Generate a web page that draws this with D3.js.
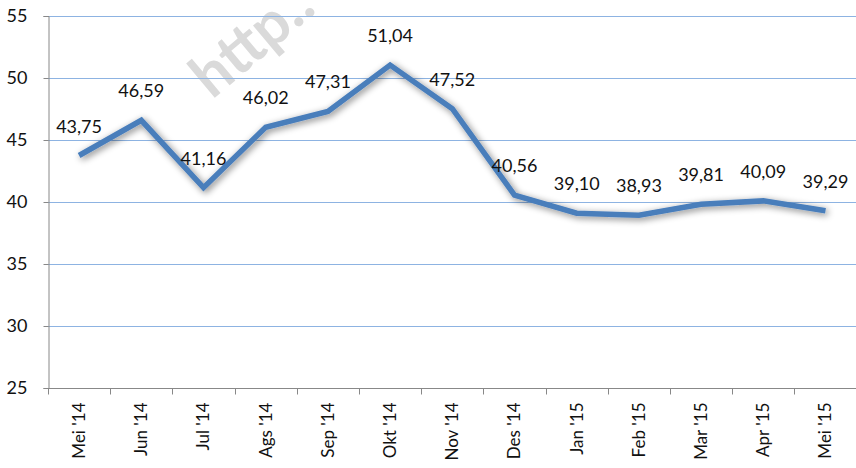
<!DOCTYPE html>
<html>
<head>
<meta charset="utf-8">
<script src="https://cdn.jsdelivr.net/npm/d3@7"></script>
<style>
  body { margin: 0; background: #fff; }
  text { font-family: Lato, "Open Sans", sans-serif; fill: #111; }
</style>
</head>
<body>
<div id="chart"></div>
<script>
const months = ["Mei '14", "Jun '14", "Jul '14", "Ags '14", "Sep '14", "Okt '14", "Nov '14",
    "Des '14", "Jan '15", "Feb '15", "Mar '15", "Apr '15", "Mei '15"];
const values = [43.75, 46.59, 41.16, 46.02, 47.31, 51.04, 47.52, 40.56, 39.10, 38.93, 39.81, 40.09, 39.29];
const yTicks = [25, 30, 35, 40, 45, 50, 55];

const svgWidth = 856;
const svgHeight = 468;
const margin = { top: 16, right: 0, bottom: 80, left: 48 };

const svg = d3.select("#chart")
    .append("svg")
    .attr("width", svgWidth)
    .attr("height", svgHeight);

// shadow under the line
const defs = svg.append("defs");
const shadow = defs.append("filter")
    .attr("id", "shadow")
    .attr("x", "-10%").attr("y", "-20%")
    .attr("width", "120%").attr("height", "140%");
shadow.append("feGaussianBlur").attr("in", "SourceAlpha").attr("stdDeviation", 3.5).attr("result", "blur");
shadow.append("feOffset").attr("dx", 2).attr("dy", 2).attr("result", "off");
shadow.append("feComponentTransfer").append("feFuncA").attr("type", "linear").attr("slope", 0.5);
const merge = shadow.append("feMerge");
merge.append("feMergeNode");
merge.append("feMergeNode").attr("in", "SourceGraphic");

const x = d3.scaleBand()
    .domain(months)
    .range([margin.left, margin.left + 13 * 62.2])
    .padding(0);

const y = d3.scaleLinear()
    .domain([25, 55])
    .range([388, margin.top]);

// watermark (cut by the top edge, as in the original)
svg.append("text")
    .attr("transform", "translate(212,100) rotate(-40)")
    .style("font-size", "60px")
    .style("font-weight", "bold")
    .style("fill", "#dadada")
    .text("http..");

// gridlines
svg.append("g")
    .selectAll("line")
    .data(yTicks.filter(d => d > 25))
    .enter()
    .append("line")
    .attr("x1", margin.left)
    .attr("x2", svgWidth)
    .attr("y1", d => Math.round(y(d)) + 0.5)
    .attr("y2", d => Math.round(y(d)) + 0.5)
    .attr("stroke", "#8db3e2")
    .attr("stroke-width", 1);

// y axis
const leftAxis = d3.axisLeft(y).tickValues(yTicks).tickSize(5).tickPadding(16);
const yAxis = svg.append("g")
    .attr("transform", `translate(${margin.left + 0.5}, 0)`)
    .call(leftAxis);
yAxis.selectAll("path, line").attr("stroke", "#888");
yAxis.selectAll("text").style("font-size", "18px").style("fill", "#111");

// x axis
const bottomAxis = d3.axisBottom(x).tickSize(0).tickPadding(0);
const xAxis = svg.append("g")
    .attr("transform", `translate(0, ${Math.round(y(25)) + 0.5})`)
    .call(bottomAxis);
xAxis.select("path").attr("stroke", "#888").attr("d", `M${margin.left},0H${svgWidth}`);
xAxis.selectAll("text")
    .style("font-size", "17px")
    .style("fill", "#111")
    .attr("text-anchor", "end")
    .attr("transform", "rotate(-90)")
    .attr("x", -14)
    .attr("y", 0)
    .attr("dy", "0.35em");

// boundary ticks between categories
const bounds = months.map(m => x(m)).concat([x(months[months.length - 1]) + x.bandwidth()]);
xAxis.selectAll("line.sep")
    .data(bounds)
    .enter()
    .append("line")
    .attr("class", "sep")
    .attr("x1", d => Math.round(d) + 0.5)
    .attr("x2", d => Math.round(d) + 0.5)
    .attr("y1", 0)
    .attr("y2", 6)
    .attr("stroke", "#888");

// the line
const line = d3.line()
    .x((d, i) => x(months[i]) + x.bandwidth() / 2)
    .y(d => y(d));

svg.append("path")
    .datum(values)
    .attr("d", line)
    .attr("fill", "none")
    .attr("stroke", "#4a7ebb")
    .attr("stroke-width", 5.5)
    .attr("stroke-linejoin", "miter")
    .attr("filter", "url(#shadow)");

// value labels
svg.append("g")
    .selectAll("text")
    .data(values)
    .enter()
    .append("text")
    .attr("x", (d, i) => x(months[i]) + x.bandwidth() / 2)
    .attr("y", d => y(d) - 23)
    .attr("text-anchor", "middle")
    .style("font-size", "18px")
    .text(d => d.toFixed(2).replace(".", ","));
</script>
</body>
</html>
